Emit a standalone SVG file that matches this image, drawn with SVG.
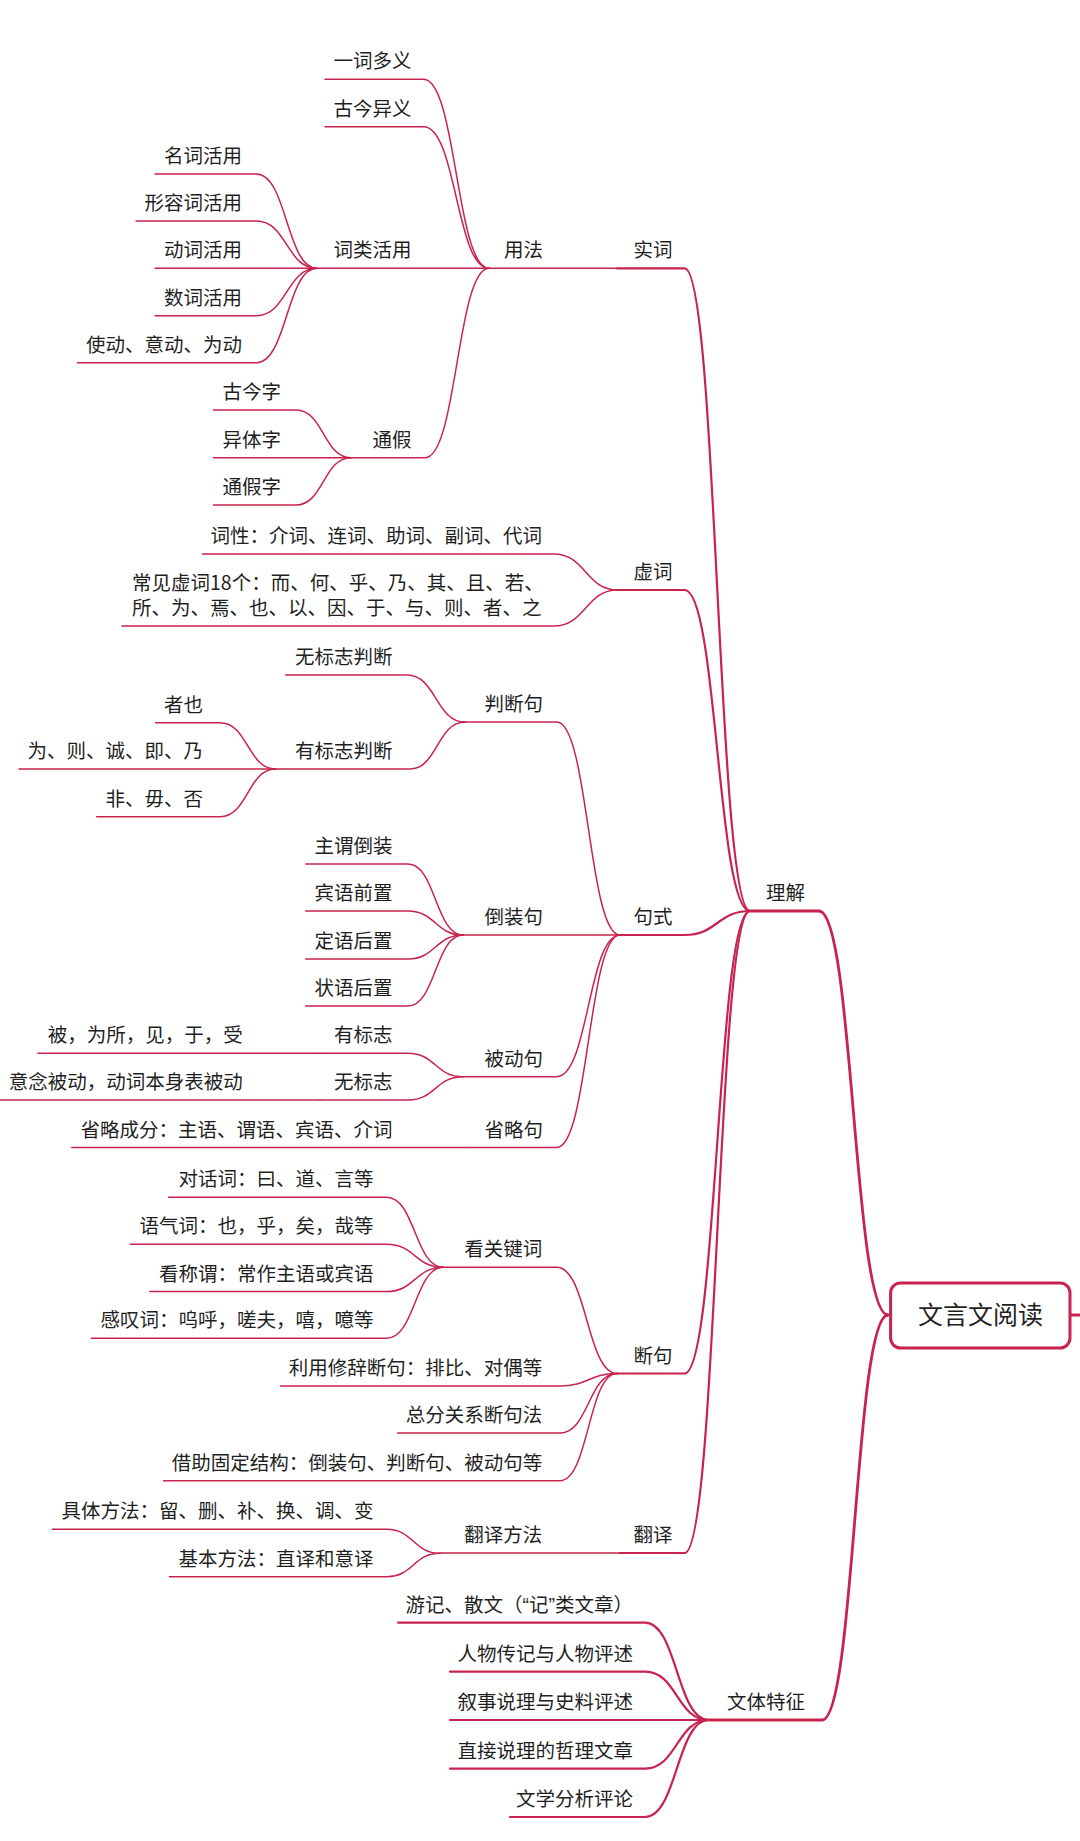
<svg xmlns="http://www.w3.org/2000/svg" width="1080" height="1841" viewBox="0 0 1080 1841">
<style>
.t{font-family:"Noto Sans CJK SC","Noto Sans",sans-serif;font-size:19.5px;fill:#1f1f1f;text-anchor:end}
.s{text-anchor:start}
.r{font-size:25px;text-anchor:middle}
.q{font-family:"Liberation Sans",sans-serif}
.c{fill:none;stroke:#c8234e;stroke-linecap:round}
.w1{stroke-width:2.8}
.w2{stroke-width:2.2}
.w3{stroke-width:1.5}
</style>
<rect width="1080" height="1841" fill="#ffffff"/>
<g id="connectors">
<g class="c w1">
<path d="M750 911 H819 C853.5 911 853.5 1315 888 1315"/>
<path d="M708.7 1720 H822 C855 1720 855 1315 888 1315"/>
<path d="M1070 1315 H1080"/>
</g>
<g class="c w2">
<path d="M617 268.3 H684.6 C717.3 268.3 717.3 911 750 911"/>
<path d="M617.5 590 H684.6 C717.3 590 717.3 911 750 911"/>
<path d="M620 935 H684.6 C717.3 935 717.3 911 750 911"/>
<path d="M617 1373.5 H684.6 C717.3 1373.5 717.3 911 750 911"/>
<path d="M620 1553 H684.6 C717.3 1553 717.3 911 750 911"/>
<path d="M398 1622.6 H645 C676.9 1622.6 676.9 1720 708.7 1720"/>
<path d="M450 1671.6 H645 C676.9 1671.6 676.9 1720 708.7 1720"/>
<path d="M450 1720 H708.7"/>
<path d="M450 1768.6 H645 C676.9 1768.6 676.9 1720 708.7 1720"/>
<path d="M510 1817 H645 C676.9 1817 676.9 1720 708.7 1720"/>
</g>
<g class="c w3">
<path d="M489 268.3 H617"/>
<path d="M202.5 554 H553.8 C585.7 554 585.7 590 617.5 590"/>
<path d="M122 626 H553.8 C585.7 626 585.7 590 617.5 590"/>
<path d="M464.9 722 H556.7 C588.4 722 588.4 935 620 935"/>
<path d="M463 935 H620"/>
<path d="M463 1076.8 H556.7 C588.4 1076.8 588.4 935 620 935"/>
<path d="M470 1147.5 H556.7 C588.4 1147.5 588.4 935 620 935"/>
<path d="M443.3 1267.3 H556.7 C586.9 1267.3 586.9 1373.5 617 1373.5"/>
<path d="M280.6 1386 H560 C588.5 1386 588.5 1373.5 617 1373.5"/>
<path d="M397.7 1433 H560 C588.5 1433 588.5 1373.5 617 1373.5"/>
<path d="M163.6 1480.7 H560 C588.5 1480.7 588.5 1373.5 617 1373.5"/>
<path d="M440 1553 H620"/>
<path d="M325 79.3 H423.6 C456.3 79.3 456.3 268.3 489 268.3"/>
<path d="M325 126.7 H423.6 C456.3 126.7 456.3 268.3 489 268.3"/>
<path d="M316.8 268.3 H489"/>
<path d="M351 457.7 H425 C457 457.7 457 268.3 489 268.3"/>
<path d="M285.8 675 H407 C436 675 436 722 464.9 722"/>
<path d="M275.5 769 H409.8 C437.4 769 437.4 722 464.9 722"/>
<path d="M305.8 864 H408 C435.5 864 435.5 935 463 935"/>
<path d="M305.8 911 H408 C435.5 911 435.5 935 463 935"/>
<path d="M305.8 959 H408 C435.5 959 435.5 935 463 935"/>
<path d="M305.8 1006 H408 C435.5 1006 435.5 935 463 935"/>
<path d="M320 1053.3 H408 C435.5 1053.3 435.5 1076.8 463 1076.8"/>
<path d="M320 1100 H408 C435.5 1100 435.5 1076.8 463 1076.8"/>
<path d="M71.6 1147.5 H470"/>
<path d="M168.7 1197.3 H386.7 C415 1197.3 415 1267.3 443.3 1267.3"/>
<path d="M130.2 1244.3 H386.7 C415 1244.3 415 1267.3 443.3 1267.3"/>
<path d="M149.8 1291.5 H386.7 C415 1291.5 415 1267.3 443.3 1267.3"/>
<path d="M91.3 1338.3 H386.7 C415 1338.3 415 1267.3 443.3 1267.3"/>
<path d="M52.3 1529.3 H386.7 C413.4 1529.3 413.4 1553.3 440 1553.3"/>
<path d="M169.4 1576.7 H386.7 C413.4 1576.7 413.4 1553.3 440 1553.3"/>
<path d="M155 174 H256.5 C286.7 174 286.7 268.3 316.8 268.3"/>
<path d="M136 221 H256.5 C286.7 221 286.7 268.3 316.8 268.3"/>
<path d="M155 268.3 H316.8"/>
<path d="M155 315.7 H256.5 C286.7 315.7 286.7 268.3 316.8 268.3"/>
<path d="M77.5 362.7 H256.5 C286.7 362.7 286.7 268.3 316.8 268.3"/>
<path d="M213.5 410 H296 C323.5 410 323.5 457.7 351 457.7"/>
<path d="M213.5 457.7 H351"/>
<path d="M213.5 505 H296 C323.5 505 323.5 457.7 351 457.7"/>
<path d="M155.7 722.7 H220 C247.8 722.7 247.8 769 275.5 769"/>
<path d="M19 769 H275.5"/>
<path d="M96.7 816.7 H220 C247.8 816.7 247.8 769 275.5 769"/>
<path d="M37.9 1053.3 H320"/>
<path d="M0 1100 H320"/>
</g>
</g>
<g id="root"><rect x="890.6" y="1283" width="179.4" height="65" rx="10" fill="#ffffff" stroke="#c8234e" stroke-width="3"/><text class="t r" x="980.5" y="1324">文言文阅读</text></g>
<g id="n-lijie"><text class="t" x="805" y="900">理解</text></g>
<g id="n-wenti"><text class="t" x="805" y="1709">文体特征</text></g>
<g id="n-shici"><text class="t" x="672.6" y="257.3">实词</text></g>
<g id="n-xuci"><text class="t" x="672.6" y="579">虚词</text></g>
<g id="n-jushi"><text class="t" x="672.6" y="924">句式</text></g>
<g id="n-duanju"><text class="t" x="672.6" y="1362.5">断句</text></g>
<g id="n-fanyi"><text class="t" x="672.6" y="1542">翻译</text></g>
<g id="n-w1"><text class="t" x="633" y="1611.6">游记、散文（<tspan class="q">“</tspan>记<tspan class="q">”</tspan>类文章）</text></g>
<g id="n-w2"><text class="t" x="633" y="1660.6">人物传记与人物评述</text></g>
<g id="n-w3"><text class="t" x="633" y="1709">叙事说理与史料评述</text></g>
<g id="n-w4"><text class="t" x="633" y="1757.6">直接说理的哲理文章</text></g>
<g id="n-w5"><text class="t" x="633" y="1806">文学分析评论</text></g>
<g id="n-yongfa"><text class="t" x="543" y="257.3">用法</text></g>
<g id="n-cixing"><text class="t" x="542" y="543">词性：介词、连词、助词、副词、代词</text></g>
<g id="n-changjian"><text class="t s" x="132" y="590">常见虚词18个：而、何、乎、乃、其、且、若、<tspan x="132" y="615">所、为、焉、也、以、因、于、与、则、者、之</tspan></text></g>
<g id="n-panduan"><text class="t" x="543" y="711">判断句</text></g>
<g id="n-daozhuang"><text class="t" x="543" y="924">倒装句</text></g>
<g id="n-beidong"><text class="t" x="543" y="1065.8">被动句</text></g>
<g id="n-shenglue"><text class="t" x="543" y="1136.5">省略句</text></g>
<g id="n-kan"><text class="t" x="542.3" y="1256.3">看关键词</text></g>
<g id="n-xiuci"><text class="t" x="542.3" y="1375">利用修辞断句：排比、对偶等</text></g>
<g id="n-zongfen"><text class="t" x="542.3" y="1422">总分关系断句法</text></g>
<g id="n-jiezhu"><text class="t" x="542.3" y="1469.7">借助固定结构：倒装句、判断句、被动句等</text></g>
<g id="n-fyff"><text class="t" x="542.3" y="1542">翻译方法</text></g>
<g id="n-yici"><text class="t" x="411.5" y="68.3">一词多义</text></g>
<g id="n-gujin"><text class="t" x="411.5" y="115.7">古今异义</text></g>
<g id="n-cilei"><text class="t" x="411.5" y="257.3">词类活用</text></g>
<g id="n-tongjia"><text class="t" x="411.5" y="446.7">通假</text></g>
<g id="n-wubz"><text class="t" x="392.6" y="664">无标志判断</text></g>
<g id="n-youbz"><text class="t" x="392.6" y="758">有标志判断</text></g>
<g id="n-d1"><text class="t" x="392.6" y="853">主谓倒装</text></g>
<g id="n-d2"><text class="t" x="392.6" y="900">宾语前置</text></g>
<g id="n-d3"><text class="t" x="392.6" y="948">定语后置</text></g>
<g id="n-d4"><text class="t" x="392.6" y="995">状语后置</text></g>
<g id="n-b1"><text class="t" x="392.6" y="1042.3">有标志</text></g>
<g id="n-b2"><text class="t" x="392.6" y="1089">无标志</text></g>
<g id="n-s1"><text class="t" x="392.6" y="1136.5">省略成分：主语、谓语、宾语、介词</text></g>
<g id="n-k1"><text class="t" x="373.6" y="1186.3">对话词：曰、道、言等</text></g>
<g id="n-k2"><text class="t" x="373.6" y="1233.3">语气词：也，乎，矣，哉等</text></g>
<g id="n-k3"><text class="t" x="373.6" y="1280.5">看称谓：常作主语或宾语</text></g>
<g id="n-k4"><text class="t" x="373.6" y="1327.3">感叹词：呜呼，嗟夫，嘻，噫等</text></g>
<g id="n-f1"><text class="t" x="373.6" y="1518.3">具体方法：留、删、补、换、调、变</text></g>
<g id="n-f2"><text class="t" x="373.6" y="1565.7">基本方法：直译和意译</text></g>
<g id="n-c1"><text class="t" x="242" y="163">名词活用</text></g>
<g id="n-c2"><text class="t" x="242" y="210">形容词活用</text></g>
<g id="n-c3"><text class="t" x="242" y="257.3">动词活用</text></g>
<g id="n-c4"><text class="t" x="242" y="304.7">数词活用</text></g>
<g id="n-c5"><text class="t" x="242" y="351.7">使动、意动、为动</text></g>
<g id="n-t1"><text class="t" x="281" y="399">古今字</text></g>
<g id="n-t2"><text class="t" x="281" y="446.7">异体字</text></g>
<g id="n-t3"><text class="t" x="281" y="494">通假字</text></g>
<g id="n-p1"><text class="t" x="203" y="711.7">者也</text></g>
<g id="n-p2"><text class="t" x="203" y="758">为、则、诚、即、乃</text></g>
<g id="n-p3"><text class="t" x="203" y="805.7">非、毋、否</text></g>
<g id="n-b1c"><text class="t" x="242.8" y="1042.3">被，为所，见，于，受</text></g>
<g id="n-b2c"><text class="t" x="242.8" y="1089">意念被动，动词本身表被动</text></g>
</svg>
